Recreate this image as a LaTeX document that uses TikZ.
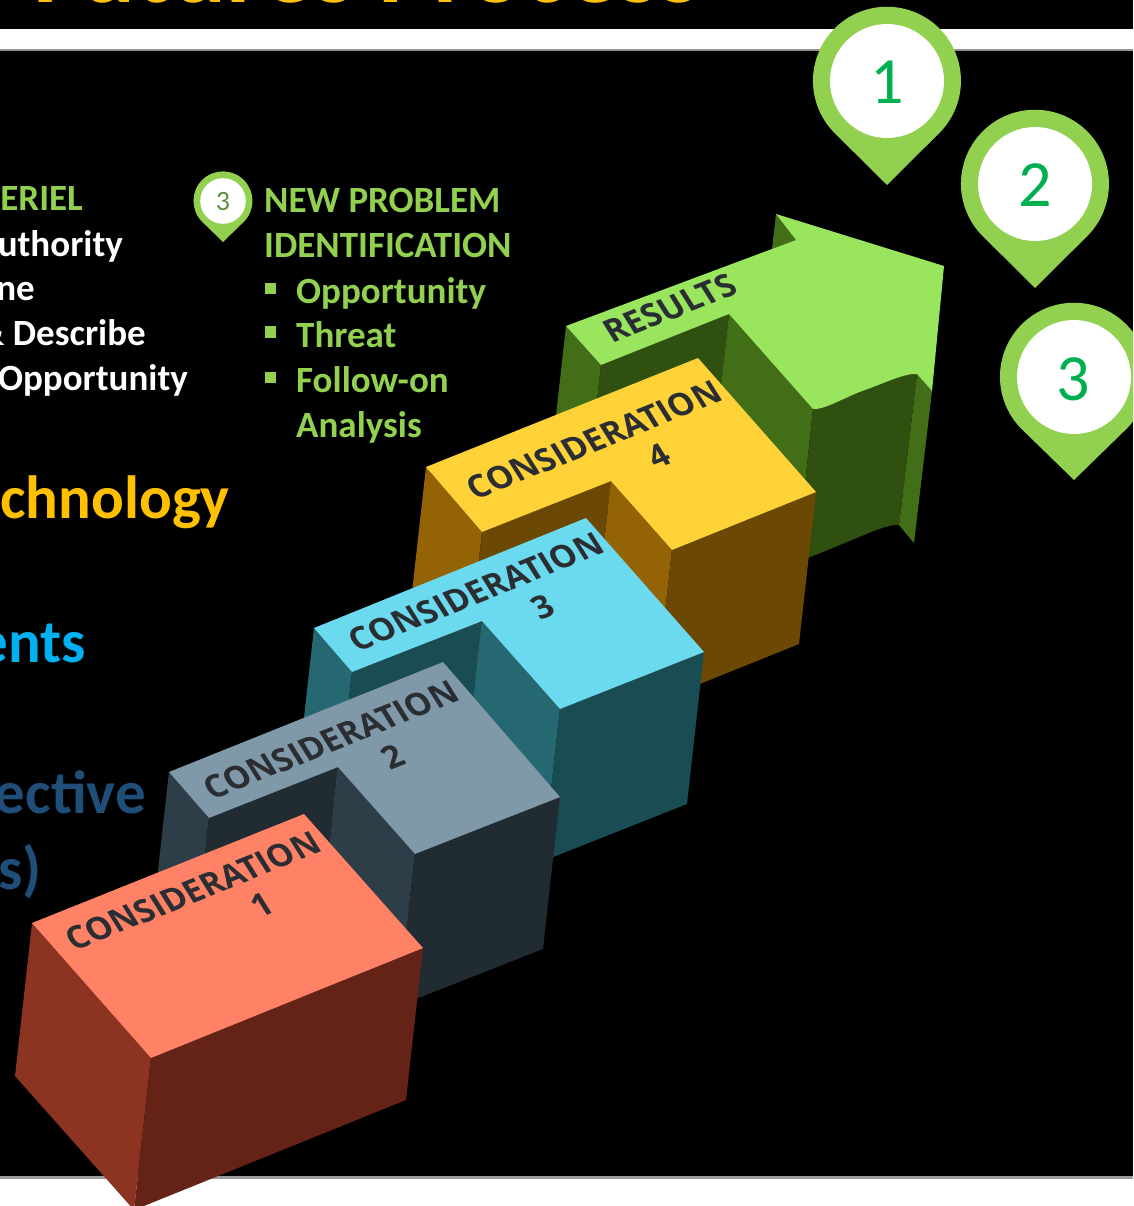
\documentclass[tikz,border=0pt]{standalone}
\usetikzlibrary{calc}
\usepackage{fontspec}
\setmainfont{Carlito}
\newfontfamily\opsans{Open Sans}
\newcommand{\fsz}[1]{\fontsize{#1}{#1}\selectfont}
\definecolor{pingreen}{HTML}{92D050}
\definecolor{numgreen}{HTML}{00B050}
\definecolor{smallnum}{HTML}{5F8F3F}
\definecolor{gold}{HTML}{FFC000}
\definecolor{skyb}{HTML}{00B0F0}
\definecolor{navyb}{HTML}{1F4E79}
\definecolor{platetxt}{HTML}{2A2E32}
\definecolor{corT}{HTML}{FF8266}\definecolor{corL}{HTML}{8C3322}\definecolor{corF}{HTML}{652318}
\definecolor{gryT}{HTML}{7F99A9}\definecolor{gryL}{HTML}{2D3E49}\definecolor{gryF}{HTML}{202B32}
\definecolor{cyaT}{HTML}{6CDAEE}\definecolor{cyaL}{HTML}{256871}\definecolor{cyaF}{HTML}{1A4C54}
\definecolor{yelT}{HTML}{FFD338}\definecolor{yelL}{HTML}{946305}\definecolor{yelF}{HTML}{6B4804}
\definecolor{grnT}{HTML}{99E55E}\definecolor{grnL}{HTML}{436E18}\definecolor{grnF}{HTML}{305010}
\tikzset{
  lefttxt/.style={anchor=base east,inner sep=0pt},
  linetxt/.style={anchor=base west,inner sep=0pt},
  bullet/.style={fill=pingreen,minimum size=11.5pt,inner sep=0pt,anchor=center},
  pinnum/.style={inner sep=0pt,text=numgreen,font=\fsz{66}},
  plate/.style={transform shape,inner sep=0pt,anchor=center,text=platetxt,font=\opsans\bfseries\fsz{32.7}},
}
% L-shaped block: corners a left, b inner left, c notch, d front, e right, f top right; depth offset (-17,152)
\newcommand{\stepface}[3]{\fill[#1] #2 -- #3 -- ($#3+(-17,152)$) -- ($#2+(-17,152)$) -- cycle;}
\newcommand{\stepblock}[7]{%
  \stepface{#1L}{#2}{#3}
  \stepface{#1F}{#3}{#4}
  \stepface{#1L}{#4}{#5}
  \stepface{#1F}{#5}{#6}
  \fill[#1T] #2 -- #7 -- #6 -- #5 -- #4 -- #3 -- cycle;
}
\newcommand{\platetext}[4]{%
  \begin{scope}[shift={(#2,#3)},cm={.927,.374,-.54,.86,(0,0)}]
    \node[plate] (#1) at (0,0) {#4};
  \end{scope}}
\newcommand{\mappin}[7]{% name, x, y, r, inner r, tip y, number node
  \coordinate (#1tip) at (#2,#6);
  \pgfmathsetmacro{\tang}{#4*0.72}
  \fill[pingreen] (#1tip) -- ++(-\tang,#3-#6+\tang*0.96) arc[start angle=136,end angle=404,radius=#4] -- cycle;
  \node[circle,fill=white,minimum size=#5*2pt,inner sep=0pt] (#1) at (#2,#3) {};
  #7
}
\begin{document}
\begin{tikzpicture}[x=1pt,y=-1pt]
\useasboundingbox (0,0) rectangle (1133,1206);
\clip (0,0) rectangle (1133,1206);
\fill[black] (0,0) rectangle (1133,1206);
% title
\node[anchor=base west,inner sep=0pt,text=gold,font=\bfseries\fsz{103}] (title) at (33,2.5) {Futures Process};
% bands
\fill[white] (0,29) rectangle (1133,49.5);
\fill[black!43] (0,49.5) rectangle (1133,51.5);
\fill[white] (0,1178.5) rectangle (1133,1206);
\fill[black!40] (0,1176) rectangle (1133,1179);
% left texts
\node[lefttxt,text=pingreen,font=\bfseries\fsz{37}] (t1) at (83,211) {ERIEL};
\node[lefttxt,text=white,font=\bfseries\fsz{37}] (t2) at (123,256) {uthority};
\node[lefttxt,text=white,font=\bfseries\fsz{37}] (t3) at (35,300) {ne};
\node[lefttxt,text=white,font=\bfseries\fsz{37}] (t4) at (146,345) {\& Describe};
\node[lefttxt,text=white,font=\bfseries\fsz{37}] (t5) at (188,390) {Opportunity};
\node[lefttxt,text=gold,font=\bfseries\fsz{61}] (t6) at (230,518) {chnology};
\node[lefttxt,text=skyb,font=\bfseries\fsz{61}] (t7) at (86,662) {ents};
\node[lefttxt,text=navyb,font=\bfseries\fsz{61}] (t8) at (146,813) {ective};
\node[lefttxt,text=navyb,font=\bfseries\fsz{61}] (t9) at (42,889) {s)};
% right list
\node[linetxt,text=pingreen,font=\bfseries\fsz{37}] (n1) at (264,213) {NEW PROBLEM};
\node[linetxt,text=pingreen,font=\bfseries\fsz{37}] (n2) at (264,258) {IDENTIFICATION};
\node[linetxt,text=pingreen,font=\bfseries\fsz{37}] (n3) at (296,303) {Opportunity};
\node[linetxt,text=pingreen,font=\bfseries\fsz{37}] (n4) at (296,347) {Threat};
\node[linetxt,text=pingreen,font=\bfseries\fsz{37}] (n5) at (296,392) {Follow-on};
\node[linetxt,text=pingreen,font=\bfseries\fsz{37}] (n6) at (296,437) {Analysis};
\node[bullet] (b1) at (270.5,288.5) {};
\node[bullet] (b2) at (270.5,332) {};
\node[bullet] (b3) at (270.5,377.5) {};
% pins
\mappin{pa}{887}{81}{74}{57}{185}{\node[pinnum] (na) at (887,82) {1};}
\mappin{pb}{1035}{184}{74}{57}{288}{\node[pinnum] (nb) at (1035,185) {2};}
\mappin{pc}{1074}{377}{74}{57}{480}{\node[pinnum] (nc) at (1073,379) {3};}
\mappin{pd}{223}{201}{29.5}{22.8}{242}{\node[inner sep=0pt,text=smallnum,font=\fsz{28}] (nd) at (223,202) {3};}
% arrow
\fill[grnL] (566,326) -- (601,365) -- (584,517) -- (549,478) -- cycle;
\fill[grnF] (601,365) -- (729,314) -- (712,466) -- (584,517) -- cycle;
\fill[grnL] (729,314) -- (813,409) -- (797,560) -- (712,466) -- cycle;
\fill[grnL] (917,374) -- (932,391) -- (914,543) -- (899,525) -- cycle;
\fill[grnF] (813,409) .. controls (825,410) and (845,397) .. (865,390) .. controls (885,383) and (905,373) .. (917,374)
  -- (899,525) .. controls (887,524) and (867,534) .. (847,542) .. controls (827,550) and (810,558) .. (797,561) -- cycle;
\fill[grnL] (776,214) -- (796,240) -- (772,249) -- cycle;
\fill[grnT] (566,326) -- (796,240) -- (776,214) -- (944,266) -- (932,391) -- (917,374)
  .. controls (905,373) and (885,383) .. (865,390) .. controls (845,397) and (825,410) .. (813,409)
  -- (729,314) -- (601,365) -- cycle;
\platetext{res}{670}{308}{RESULTS}
% blocks
\stepblock{yel}{(426,467)}{(482,532)}{(611,481)}{(672,550)}{(816,492)}{(698,358)}
\platetext{c4}{594}{440}{CONSIDERATION}
\platetext{d4}{659}{456}{4}
\stepblock{cya}{(314,628)}{(352,672)}{(482,621)}{(560,709)}{(704,652)}{(586,518)}
\platetext{c3}{476}{592}{CONSIDERATION}
\platetext{d3}{543}{607}{3}
\stepblock{gry}{(169,772)}{(209,818)}{(338,767)}{(415,854)}{(560,797)}{(443,662)}
\platetext{c2}{331}{740}{CONSIDERATION}
\platetext{d2}{393}{757}{2}
% block 1
\fill[corL] (32,923) -- (151,1058) -- (134,1210) -- (15,1076) -- cycle;
\fill[corF] (151,1058) -- (423,948) -- (406,1100) -- (134,1210) -- cycle;
\fill[corT] (32,923) -- (304,814) -- (423,948) -- (151,1058) -- cycle;
\platetext{c1}{193}{891}{CONSIDERATION}
\platetext{d1}{262}{905}{1}
\end{tikzpicture}
\end{document}
